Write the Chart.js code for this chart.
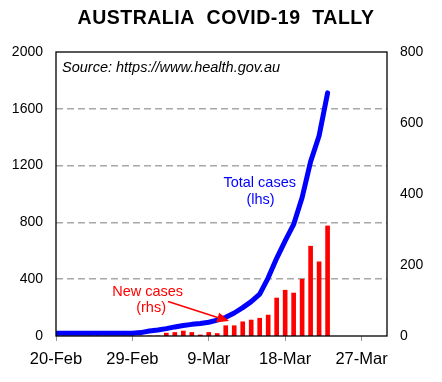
<!DOCTYPE html>
<html>
<head>
<meta charset="utf-8">
<script src="https://cdn.jsdelivr.net/npm/chart.js@4.4.1/dist/chart.umd.min.js"></script>
<style>
html,body{margin:0;padding:0;background:#fff;}
#wrap{width:442px;height:382px;}
</style>
</head>
<body>
<div id="wrap"><canvas id="c" width="442" height="382"></canvas></div>
<script>
// ---- data ----
const dates = ['20-Feb','21-Feb','22-Feb','23-Feb','24-Feb','25-Feb','26-Feb','27-Feb','28-Feb','29-Feb',
  '1-Mar','2-Mar','3-Mar','4-Mar','5-Mar','6-Mar','7-Mar','8-Mar','9-Mar','10-Mar','11-Mar','12-Mar',
  '13-Mar','14-Mar','15-Mar','16-Mar','17-Mar','18-Mar','19-Mar','20-Mar','21-Mar','22-Mar','23-Mar'];
const totalCases = [20,20,20,20,20,20,20,20,20,20,
  24,35,42,52,64,74,82,88,97,112,132,162,
  200,242,295,410,547,670,786,975,1228,1410,1712];
const newCases = [0,0,0,0,0,0,0,0,0,0,
  0,0,0,8,10,14,10,3,10,7,29,29,
  40,45,50,59,107,129,121,160,253,209,310];
const xTickDays = [0,9,18,27,36];
const xTickLabels = ['20-Feb','29-Feb','9-Mar','18-Mar','27-Mar'];
const leftTicks = [0,400,800,1200,1600,2000];
const rightTicks = [0,200,400,600,800];

const FAM = '"Liberation Sans", Arial, Helvetica, sans-serif';

const decor = {
  id: 'decor',
  afterDraw(chart) {
    const {ctx, chartArea: a, scales: {x, y, y1}} = chart;
    ctx.save();
    // frame
    ctx.strokeStyle = '#000';
    ctx.lineWidth = 1.3;
    ctx.strokeRect(a.left, a.top, a.right - a.left, a.bottom - a.top);
    // title
    ctx.fillStyle = '#000';
    ctx.font = 'bold 19.5px ' + FAM;
    ctx.textAlign = 'center';
    ctx.textBaseline = 'alphabetic';
    try { ctx.letterSpacing = '0.5px'; } catch(e) {}
    ctx.fillText('AUSTRALIA  COVID-19  TALLY', 226, 23.5);
    try { ctx.letterSpacing = '0px'; } catch(e) {}
    // source
    ctx.font = 'italic 14.5px ' + FAM;
    ctx.textAlign = 'left';
    ctx.textBaseline = 'middle';
    ctx.fillText('Source: https://www.health.gov.au', a.left + 6, a.top + 16);
    // total cases label
    ctx.font = '14.5px ' + FAM;
    ctx.textAlign = 'center';
    ctx.fillStyle = '#0000ff';
    ctx.fillText('Total cases', x.getPixelForValue(24.0), y.getPixelForValue(1074));
    ctx.fillText('(lhs)', x.getPixelForValue(24.1), y.getPixelForValue(961));
    // new cases label
    ctx.fillStyle = '#ff0000';
    ctx.fillText('New cases', x.getPixelForValue(10.8), y1.getPixelForValue(123));
    ctx.fillText('(rhs)', x.getPixelForValue(11.2), y1.getPixelForValue(78));
    // arrow
    const x0 = x.getPixelForValue(13.2), yA = y1.getPixelForValue(97);
    const x1 = x.getPixelForValue(20.4), yB = y1.getPixelForValue(42);
    const ang = Math.atan2(yB - yA, x1 - x0);
    const hl = 12, hw = 5;
    const bx = x1 - hl * Math.cos(ang), by = yB - hl * Math.sin(ang);
    ctx.strokeStyle = '#ff0000';
    ctx.lineWidth = 1.5;
    ctx.beginPath(); ctx.moveTo(x0, yA); ctx.lineTo(bx, by); ctx.stroke();
    ctx.beginPath();
    ctx.moveTo(x1, yB);
    ctx.lineTo(bx + hw * Math.sin(ang), by - hw * Math.cos(ang));
    ctx.lineTo(bx - hw * Math.sin(ang), by + hw * Math.cos(ang));
    ctx.closePath(); ctx.fill();
    ctx.restore();
  }
};

new Chart(document.getElementById('c'), {
  type: 'bar',
  data: {
    datasets: [
      {
        type: 'line', label: 'Total cases',
        data: totalCases.map((v, i) => ({x: i, y: v})),
        yAxisID: 'y', borderColor: '#0000ff', borderWidth: 5,
        pointRadius: 0, tension: 0, borderJoinStyle: 'round', borderCapStyle: 'round', order: 0
      },
      {
        type: 'bar', label: 'New cases',
        data: newCases.map((v, i) => ({x: i, y: v})),
        yAxisID: 'y1', backgroundColor: '#ff0000', barThickness: 4, order: 1
      }
    ]
  },
  options: {
    responsive: false, animation: false,
    layout: {padding: {top: 52, left: 0, right: 0, bottom: 0}},
    plugins: {legend: {display: false}, tooltip: {enabled: false}, title: {display: false}},
    scales: {
      x: {
        type: 'linear', min: 0, max: 39, offset: false,
        afterBuildTicks: s => { s.ticks = xTickDays.map(v => ({value: v})); },
        afterFit: s => { s.height = 46; },
        ticks: {
          callback: v => { const k = xTickDays.indexOf(v); return k >= 0 ? xTickLabels[k] : ''; },
          font: {family: FAM, size: 16.5}, color: '#000', padding: 9, maxRotation: 0, autoSkip: false
        },
        grid: {offset: false, drawOnChartArea: false, drawTicks: true, tickLength: 5, color: '#999', lineWidth: 1},
        border: {display: false}
      },
      y: {
        position: 'left', min: 0, max: 2000,
        afterBuildTicks: s => { s.ticks = leftTicks.map(v => ({value: v})); },
        afterFit: s => { s.width = 56; },
        ticks: {font: {family: FAM, size: 14}, color: '#000', padding: 13, callback: v => String(v)},
        grid: {
          drawTicks: false, lineWidth: 1.6,
          color: c => (c.tick && (c.tick.value === 0 || c.tick.value === 2000)) ? 'rgba(0,0,0,0)' : '#a8a8a8'
        },
        border: {display: false, dash: [7, 4]}
      },
      y1: {
        position: 'right', min: 0, max: 800,
        afterBuildTicks: s => { s.ticks = rightTicks.map(v => ({value: v})); },
        afterFit: s => { s.width = 55; },
        ticks: {font: {family: FAM, size: 14}, color: '#000', padding: 13, callback: v => String(v)},
        grid: {display: false, drawTicks: false},
        border: {display: false}
      }
    }
  },
  plugins: [decor]
});
</script>
</body>
</html>
